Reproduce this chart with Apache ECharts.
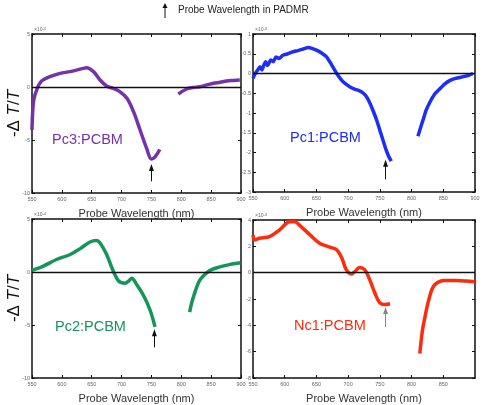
<!DOCTYPE html>
<html>
<head>
<meta charset="utf-8">
<script src="https://cdn.jsdelivr.net/npm/echarts@6/dist/echarts.min.js"></script>
<style>
  html, body { margin: 0; padding: 0; background: #fff; }
  #chart { width: 487px; height: 405px; }
</style>
</head>
<body>
<div id="chart"></div>
<script>
// wavelength (nm) / -dT/T pairs, values in the units of each panel's axis (x10^-4 or x10^-3)
const pc3Seg1 = [[550,-4.06],[551,-2.5],[553,-1.2],[559,-0.1],[566,0.57],[580,0.97],[597,1.29],[614,1.45],[636,1.76],[641,1.82],[653,1.45],[664,0.66],[675,0.1],[686,-0.13],[697,-0.44],[709,-1.07],[720,-2.33],[731,-4.06],[742,-5.8],[750,-6.8],[756,-6.6],[764,-5.9]]
const pc3Seg2 = [[795,-0.66],[809,-0.19],[820,-0.05],[831,0.03],[843,0.2],[854,0.35],[865,0.45],[876,0.57],[888,0.62],[898,0.66]]

const pc1Seg1 = [[550,-0.12],[553,-0.02],[555,0.04],[558,0.1],[561,0.17],[564,0.09],[567,0.21],[570,0.3],[573,0.2],[578,0.34],[582,0.3],[586,0.42],[591,0.38],[597,0.46],[605,0.5],[613,0.55],[621,0.58],[629,0.62],[637,0.66],[644,0.63],[650,0.59],[658,0.52],[666,0.42],[674,0.22],[682,0],[692,-0.21],[703,-0.34],[711,-0.4],[718,-0.44],[724,-0.5],[729,-0.59],[734,-0.74],[739,-0.93],[745,-1.18],[750,-1.44],[755,-1.69],[760,-1.94],[764,-2.1],[768,-2.22]]
const pc1Seg2 = [[810,-1.59],[814,-1.38],[818,-1.18],[823,-0.93],[829,-0.72],[836,-0.53],[845,-0.38],[852,-0.27],[860,-0.18],[868,-0.13],[876,-0.1],[884,-0.07],[891,-0.04],[897,0]]

const pc2Seg1 = [[550,0.16],[569,0.56],[591,1.18],[614,1.65],[630,2.18],[647,2.83],[658,2.98],[664,2.74],[675,1.65],[686,0.1],[695,-0.84],[706,-1.05],[712,-0.85],[717,-0.59],[725,-1.15],[737,-2.24],[748,-3.63],[756,-5.18]]
const pc2Seg2 = [[814,-3.78],[817,-3],[821,-2.24],[826,-1.4],[832,-0.68],[843,-0.06],[851,0.22],[860,0.41],[871,0.58],[882,0.72],[891,0.8],[899,0.87]]

const nc1Seg1 = [[550,2.87],[551,2.6],[553,2.49],[560,2.62],[576,2.74],[592,3.25],[608,3.87],[616,3.87],[624,3.57],[640,2.87],[655,2.24],[671,1.94],[682,1.74],[690,1.11],[697,0.23],[705,-0.1],[711,0.1],[718,0.4],[726,0.23],[734,-0.53],[742,-1.53],[750,-2.29],[758,-2.42],[766,-2.36]]
const nc1Seg2 = [[813,-6.14],[817,-4.43],[821,-3.4],[824,-2.67],[828,-1.9],[832,-1.28],[836,-0.95],[840,-0.78],[850,-0.6],[871,-0.6],[886,-0.64],[900,-0.7]]

// arrow marking the probe wavelength used in PADMR: [wavelength, shaft base, tip]
const pc3Arrow = [750, -8.9, -7.6]
const pc1Arrow = [759, -2.68, -2.27]
const pc2Arrow = [755, -7.11, -5.74]
const nc1Arrow = [759, -4.13, -2.87]

const panelNames = ['Pc3:PCBM', 'Pc1:PCBM', 'Pc2:PCBM', 'Nc1:PCBM']
const panelColors = ['#7433a8', '#1c2ef8', '#15955a', '#ff2b0d']
const yMins = [-10, -3, -10, -8]
const yMaxs = [5, 1, 5, 4]
const yIntervals = [5, 0.5, 5, 2]
const yExponents = ['-4', '-3', '-4', '-3']

const grids = [
  { left: 32, top: 34, width: 209, height: 159 },
  { left: 253, top: 34, width: 222, height: 158 },
  { left: 32, top: 219, width: 209, height: 161 },
  { left: 253, top: 220, width: 222, height: 159 }
]

const segs = [[pc3Seg1, pc3Seg2], [pc1Seg1, pc1Seg2], [pc2Seg1, pc2Seg2], [nc1Seg1, nc1Seg2]]
const arrows = [pc3Arrow, pc1Arrow, pc2Arrow, nc1Arrow]

const font = 'Liberation Sans, Arial, Helvetica, sans-serif'
const boxLine = { show: true, onZero: false, lineStyle: { color: '#111', width: 1.5 } }
const tickIn = { show: true, inside: true, length: 3, lineStyle: { color: '#111', width: 1 } }

const xAxis = []
const yAxis = []
const series = []

grids.forEach((g, i) => {
  xAxis.push({
    type: 'value', gridIndex: i, min: 550, max: 900, interval: 50,
    axisLine: boxLine, axisTick: tickIn, splitLine: { show: false },
    axisLabel: { fontSize: 5.5, color: '#666', margin: 3, fontFamily: font, showMaxLabel: i !== 3 },
    name: 'Probe Wavelength (nm)', nameLocation: 'middle', nameGap: 15,
    nameTextStyle: { fontSize: 11, color: '#333', fontFamily: font }
  })
  xAxis.push({
    type: 'value', gridIndex: i, position: 'top', min: 550, max: 900, interval: 50,
    axisLine: boxLine, axisTick: tickIn, axisLabel: { show: false }, splitLine: { show: false }
  })
  const left = {
    type: 'value', gridIndex: i, min: yMins[i], max: yMaxs[i], interval: yIntervals[i],
    axisLine: boxLine, axisTick: tickIn, splitLine: { show: false },
    axisLabel: { fontSize: 5.5, color: '#666', margin: 2, fontFamily: font }
  }
  if (i === 0 || i === 2) {
    left.name = '-Δ {i|T}/{i|T}'
    left.nameLocation = 'middle'
    left.nameGap = 9
    left.nameMoveOverlap = false
    left.nameTextStyle = {
      fontSize: 17, color: '#111', fontFamily: font,
      rich: { i: { fontSize: 17, fontStyle: 'italic', color: '#111', fontFamily: font } }
    }
  }
  yAxis.push(left)
  yAxis.push({
    type: 'value', gridIndex: i, position: 'right', min: yMins[i], max: yMaxs[i], interval: yIntervals[i],
    axisLine: boxLine, axisTick: tickIn, axisLabel: { show: false }, splitLine: { show: false }
  })

  const a = arrows[i]
  segs[i].forEach((d, k) => {
    const s = {
      type: 'line', xAxisIndex: 2 * i, yAxisIndex: 2 * i, data: d,
      showSymbol: false, smooth: i === 1 ? 0.2 : 0.35,
      lineStyle: { color: panelColors[i], width: 3.5 }, z: 3
    }
    if (k === 0) {
      s.markLine = {
        silent: true, animation: false, symbol: 'none', label: { show: false },
        lineStyle: { color: '#111', width: 1.4, type: 'solid' },
        data: [
          { yAxis: 0 },
          [
            { coord: [a[0], a[1]], symbol: 'none', lineStyle: { color: i === 3 ? '#888' : '#111', width: 1, type: 'solid' } },
            { coord: [a[0], a[2]], symbol: 'triangle', symbolSize: [5, 7], symbolRotate: 0 }
          ]
        ]
      }
    }
    series.push(s)
  })
})

const graphic = [
  // legend note at top
  { type: 'line', shape: { x1: 165, y1: 18, x2: 165, y2: 7 }, style: { stroke: '#111', lineWidth: 1 } },
  { type: 'polygon', shape: { points: [[162.5, 8], [167.5, 8], [165, 3]] }, style: { fill: '#111' } },
  { type: 'text', left: 178, top: 5, style: { text: 'Probe Wavelength in PADMR', fontSize: 10, fill: '#222', fontFamily: font } }
]
const labelPos = [[52, 132], [290, 130], [55, 319], [294, 318]]
panelNames.forEach((n, i) => {
  graphic.push({
    type: 'text', left: labelPos[i][0], top: labelPos[i][1],
    style: { text: n, fontSize: 14.5, fill: panelColors[i], fontFamily: font }
  })
  graphic.push({
    type: 'text', left: grids[i].left + 2, top: grids[i].top - 7,
    style: {
      text: '×10{s|' + yExponents[i] + '}', fontSize: 5, fill: '#666', fontFamily: font,
      rich: { s: { fontSize: 4, verticalAlign: 'top', fill: '#666', fontFamily: font } }
    }
  })
})

const chart = echarts.init(document.getElementById('chart'), null, { renderer: 'canvas' })
chart.setOption({
  animation: false,
  backgroundColor: '#fff',
  grid: grids,
  xAxis: xAxis,
  yAxis: yAxis,
  series: series,
  graphic: graphic
})
</script>
</body>
</html>
